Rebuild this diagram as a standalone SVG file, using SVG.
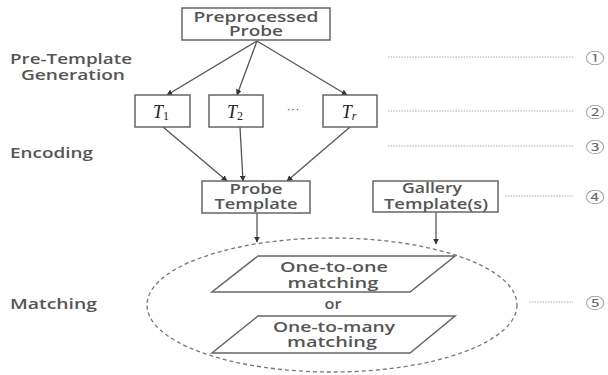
<svg xmlns="http://www.w3.org/2000/svg" width="608" height="375" viewBox="0 0 608 375">
<defs>
<marker id="ah" viewBox="0 0 10 10" refX="9" refY="5" markerWidth="6" markerHeight="6" orient="auto" markerUnits="userSpaceOnUse">
<path d="M0,0 L10,5 L0,10 z" fill="#333"/>
</marker>
<style>
.box{fill:#fff;stroke:#666;stroke-width:1.5}
.lbl{font-family:"Open Sans",sans-serif;font-weight:600;font-size:14px;fill:#555;text-anchor:middle}
.side{font-family:"Open Sans",sans-serif;font-weight:600;font-size:14px;fill:#555}
.conn{stroke:#555;stroke-width:1.3;fill:none}
.dot{stroke:#aaa;stroke-width:1;stroke-dasharray:1.5,1.2;fill:none}
.num{font-family:"Noto Sans CJK JP","DejaVu Sans",sans-serif;font-size:14px;fill:#666;text-anchor:middle}
.tt{font-family:"Liberation Serif",serif;font-style:italic;font-size:18px;fill:#222;text-anchor:middle}
</style>
</defs>
<rect width="608" height="375" fill="#fff"/>
<g id="side-labels">
<text class="side" x="10" y="64" textLength="122" lengthAdjust="spacingAndGlyphs">Pre-Template</text>
<text class="side" x="21" y="80" textLength="104" lengthAdjust="spacingAndGlyphs">Generation</text>
<text class="side" x="10" y="158" textLength="83" lengthAdjust="spacingAndGlyphs">Encoding</text>
<text class="side" x="10" y="309" textLength="87" lengthAdjust="spacingAndGlyphs">Matching</text>
</g>
<g id="steps">
<line class="dot" x1="388" y1="57" x2="573" y2="57"/>
<line class="dot" x1="388" y1="111" x2="573" y2="111"/>
<line class="dot" x1="388" y1="146" x2="573" y2="146"/>
<line class="dot" x1="505" y1="196" x2="573" y2="196"/>
<line class="dot" x1="529" y1="302" x2="573" y2="302"/>
<text class="num" x="595" y="63" textLength="19" lengthAdjust="spacingAndGlyphs">①</text>
<text class="num" x="595" y="117" textLength="19" lengthAdjust="spacingAndGlyphs">②</text>
<text class="num" x="595" y="152" textLength="19" lengthAdjust="spacingAndGlyphs">③</text>
<text class="num" x="595" y="202" textLength="19" lengthAdjust="spacingAndGlyphs">④</text>
<text class="num" x="595" y="308" textLength="19" lengthAdjust="spacingAndGlyphs">⑤</text>
</g>
<g id="connectors">
<line class="conn" x1="257" y1="41" x2="167" y2="95" marker-end="url(#ah)"/>
<line class="conn" x1="257" y1="41" x2="237" y2="95" marker-end="url(#ah)"/>
<line class="conn" x1="257" y1="41" x2="347" y2="95" marker-end="url(#ah)"/>
<line class="conn" x1="163" y1="127" x2="227" y2="181" marker-end="url(#ah)"/>
<line class="conn" x1="240" y1="127" x2="243" y2="181" marker-end="url(#ah)"/>
<line class="conn" x1="350" y1="127" x2="287" y2="181" marker-end="url(#ah)"/>
<line class="conn" x1="257" y1="213" x2="257" y2="242" marker-end="url(#ah)"/>
<line class="conn" x1="436" y1="212" x2="436" y2="244" marker-end="url(#ah)"/>
</g>
<g id="preprocessed-probe">
<rect class="box" x="182" y="8" width="148" height="32"/>
<text class="lbl" x="256" y="22" textLength="125" lengthAdjust="spacingAndGlyphs">Preprocessed</text>
<text class="lbl" x="256" y="36" textLength="54" lengthAdjust="spacingAndGlyphs">Probe</text>
</g>
<g id="t1">
<rect class="box" x="135" y="95" width="55" height="32"/>
<text class="tt" x="161" y="118">T<tspan font-style="normal" font-size="12" dy="2">1</tspan></text>
</g>
<g id="t2">
<rect class="box" x="209" y="95" width="54" height="32"/>
<text class="tt" x="235" y="118">T<tspan font-style="normal" font-size="12" dy="2">2</tspan></text>
</g>
<g id="dots">
<text x="293" y="113" font-family="Liberation Sans,sans-serif" font-size="13" fill="#555" text-anchor="middle">···</text>
</g>
<g id="tr">
<rect class="box" x="323" y="95" width="54" height="32"/>
<text class="tt" x="349" y="118">T<tspan font-size="12" dy="2">r</tspan></text>
</g>
<g id="probe-template">
<rect class="box" x="202" y="181" width="108" height="32"/>
<text class="lbl" x="256" y="194" textLength="53" lengthAdjust="spacingAndGlyphs">Probe</text>
<text class="lbl" x="256" y="209" textLength="83" lengthAdjust="spacingAndGlyphs">Template</text>
</g>
<g id="gallery-template">
<rect class="box" x="373" y="181" width="125" height="31"/>
<text class="lbl" x="432" y="193" textLength="60" lengthAdjust="spacingAndGlyphs">Gallery</text>
<text class="lbl" x="436" y="209" textLength="104" lengthAdjust="spacingAndGlyphs">Template(s)</text>
</g>
<g id="matching">
<ellipse cx="332" cy="305" rx="185" ry="67" fill="none" stroke="#777" stroke-width="1.3" stroke-dasharray="4,3"/>
<polygon class="box" points="258,256 455,256 410,292 212,292"/>
<text class="lbl" x="334" y="272" textLength="108" lengthAdjust="spacingAndGlyphs">One-to-one</text>
<text class="lbl" x="333" y="288" textLength="91" lengthAdjust="spacingAndGlyphs">matching</text>
<text class="lbl" x="333" y="309" textLength="17" lengthAdjust="spacingAndGlyphs">or</text>
<polygon class="box" points="258,316 455,316 410,353 212,353"/>
<text class="lbl" x="334" y="332" textLength="122" lengthAdjust="spacingAndGlyphs">One-to-many</text>
<text class="lbl" x="332" y="347" textLength="90" lengthAdjust="spacingAndGlyphs">matching</text>
</g>
</svg>
